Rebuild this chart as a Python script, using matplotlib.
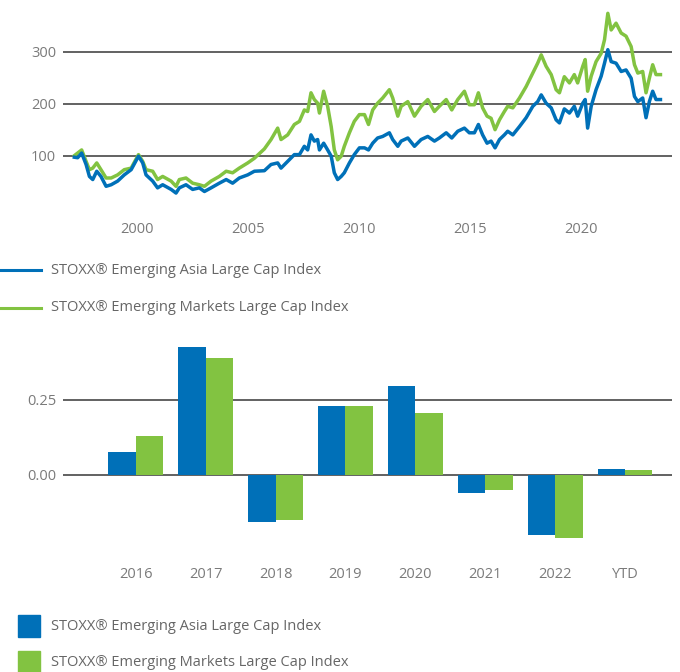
import matplotlib
matplotlib.use("Agg")
import matplotlib.pyplot as plt
from matplotlib.lines import Line2D
from matplotlib.patches import Rectangle

plt.rcParams['font.family'] = ['Open Sans', 'DejaVu Sans']

# ---- data: line chart (fractional years, index values)
years = [1997.16, 1997.31, 1997.49, 1997.69, 1997.84, 1997.99, 1998.17, 1998.36,
         1998.59, 1998.82, 1999.11, 1999.41, 1999.72, 2000.05, 2000.24, 2000.39,
         2000.69, 2000.91, 2001.14, 2001.52, 2001.74, 2001.89, 2002.19, 2002.49,
         2002.79, 2003.02, 2003.32, 2003.69, 2004.00, 2004.29, 2004.59, 2004.97,
         2005.27, 2005.72, 2006.02, 2006.32, 2006.47, 2006.77, 2007.07, 2007.30,
         2007.52, 2007.67, 2007.82, 2007.97, 2008.12, 2008.20, 2008.39, 2008.57,
         2008.73, 2008.87, 2009.02, 2009.18, 2009.32, 2009.55, 2009.77, 2010.00,
         2010.23, 2010.41, 2010.60, 2010.82, 2011.05, 2011.35, 2011.50, 2011.73,
         2011.88, 2012.18, 2012.48, 2012.78, 2013.08, 2013.38, 2013.60, 2013.91,
         2014.16, 2014.43, 2014.73, 2014.95, 2015.18, 2015.36, 2015.55, 2015.75,
         2015.93, 2016.11, 2016.31, 2016.53, 2016.68, 2016.91, 2017.21, 2017.51,
         2017.81, 2018.03, 2018.19, 2018.41, 2018.64, 2018.86, 2019.01, 2019.23,
         2019.46, 2019.68, 2019.83, 2020.06, 2020.17, 2020.28, 2020.44, 2020.66,
         2020.89, 2021.04, 2021.19, 2021.34, 2021.56, 2021.79, 2022.01, 2022.24,
         2022.39, 2022.54, 2022.76, 2022.91, 2023.06, 2023.21, 2023.36, 2023.56]
em_markets = [100, 105, 111, 89, 73, 76, 86, 73,
              57, 57, 63, 73, 76, 102, 89, 73,
              70, 54, 60, 51, 41, 54, 57, 47,
              44, 41, 51, 60, 70, 67, 76, 86,
              95, 113, 131, 153, 131, 140, 160, 166,
              188, 185, 221, 208, 201, 182, 224, 195,
              156, 111, 92, 99, 118, 144, 166, 179,
              179, 160, 188, 201, 211, 227, 211, 176,
              195, 204, 176, 195, 208, 185, 195, 208,
              188, 208, 224, 198, 198, 221, 192, 176,
              172, 150, 169, 185, 195, 192, 211, 233,
              259, 278, 294, 272, 256, 227, 221, 252,
              240, 256, 240, 272, 285, 224, 253, 281,
              297, 323, 374, 342, 355, 336, 330, 310,
              275, 259, 262, 221, 249, 275, 256, 256]
em_asia = [97, 96, 105, 83, 60, 54, 70, 60,
           41, 44, 51, 63, 73, 99, 86, 63,
           51, 38, 44, 35, 28, 38, 44, 35,
           38, 31, 38, 47, 54, 47, 57, 63,
           70, 71, 83, 86, 76, 89, 102, 102,
           118, 111, 140, 128, 131, 111, 124, 111,
           99, 67, 54, 60, 67, 86, 102, 115,
           115, 111, 124, 134, 137, 144, 131, 118,
           128, 134, 118, 131, 137, 128, 134, 144,
           134, 147, 153, 144, 144, 160, 140, 124,
           128, 115, 131, 140, 147, 140, 156, 173,
           195, 204, 217, 201, 192, 169, 163, 190,
           182, 195, 176, 201, 208, 153, 195, 227,
           253, 278, 304, 281, 278, 262, 265, 249,
           214, 204, 211, 173, 204, 224, 208, 208]
line_yticks = [100, 200, 300]
line_xticks = [2000, 2005, 2010, 2015, 2020]

# ---- data: bar chart (annual returns)
bar_categories = ['2016', '2017', '2018', '2019', '2020', '2021', '2022', 'YTD']
ret_asia = [0.077, 0.428, -0.157, 0.230, 0.297, -0.060, -0.203, 0.020]
ret_markets = [0.130, 0.390, -0.153, 0.230, 0.207, -0.050, -0.213, 0.017]
bar_yticks = [0.00, 0.25]

labels = ['STOXX® Emerging Asia Large Cap Index',
          'STOXX® Emerging Markets Large Cap Index']
BLUE = '#0070B8'
GREEN = '#82C341'
TICK_C = '#7a7a7a'
TEXT_C = '#666666'
GRID_C = '#555555'
FS = 10.5

W, H = 680, 672
fig = plt.figure(figsize=(W / 100, H / 100), dpi=100)

def fx(px):
    return px / W

def fy(py):
    return 1 - py / H

# ---------- line chart
ax1 = fig.add_axes([fx(63), fy(205), fx(672 - 63), (205 - 5) / H])
ax1.plot(years, em_markets, color=GREEN, lw=2.5, zorder=3)
ax1.plot(years, em_asia, color=BLUE, lw=2.5, zorder=4)
ax1.set_ylim(5, 390)
ax1.set_xlim(1996.65, 2024.08)
ax1.set_yticks(line_yticks)
ax1.set_xticks(line_xticks)
ax1.grid(axis='y', color=GRID_C, lw=1.3)
ax1.set_axisbelow(True)
for s in ax1.spines.values():
    s.set_visible(False)
ax1.tick_params(length=0, labelsize=FS, labelcolor=TICK_C)
ax1.tick_params(axis='y', pad=5)
ax1.tick_params(axis='x', pad=12)

# ---------- line legend
for i, (lab, col) in enumerate(zip(labels, [BLUE, GREEN])):
    y = 270 + i * 38
    fig.add_artist(Line2D([fx(0), fx(41)], [fy(y), fy(y)], color=col, lw=2.2,
                          transform=fig.transFigure))
    fig.text(fx(51), fy(y), lab, fontsize=FS, color=TEXT_C, va='center', ha='left')

# ---------- bar chart
ax2 = fig.add_axes([fx(63), fy(548), fx(672 - 63), (548 - 340) / H])
xs = list(range(len(bar_categories)))
bw = 0.39
ax2.bar([x - bw / 2 for x in xs], ret_asia, width=bw, color=BLUE, zorder=3)
ax2.bar([x + bw / 2 for x in xs], ret_markets, width=bw, color=GREEN, zorder=3)
ax2.set_xticks(xs)
ax2.set_xticklabels(bar_categories)
ax2.set_xlim(-1.04, 7.67)
ax2.set_ylim(-0.245, 0.45)
ax2.set_yticks(bar_yticks)
ax2.set_yticklabels(['%.2f' % v for v in bar_yticks])
ax2.grid(axis='y', color=GRID_C, lw=1.3)
ax2.set_axisbelow(True)
for s in ax2.spines.values():
    s.set_visible(False)
ax2.tick_params(length=0, labelsize=FS, labelcolor=TICK_C)
ax2.tick_params(axis='y', pad=5)
ax2.tick_params(axis='x', pad=14)

# ---------- bar legend
for i, (lab, col) in enumerate(zip(labels, [BLUE, GREEN])):
    y = 626 + i * 36
    fig.add_artist(Rectangle((fx(18), fy(y + 11)), fx(22), 22 / H, color=col,
                             transform=fig.transFigure))
    fig.text(fx(51), fy(y), lab, fontsize=FS, color=TEXT_C, va='center', ha='left')

fig.savefig('out.png', dpi=100)
